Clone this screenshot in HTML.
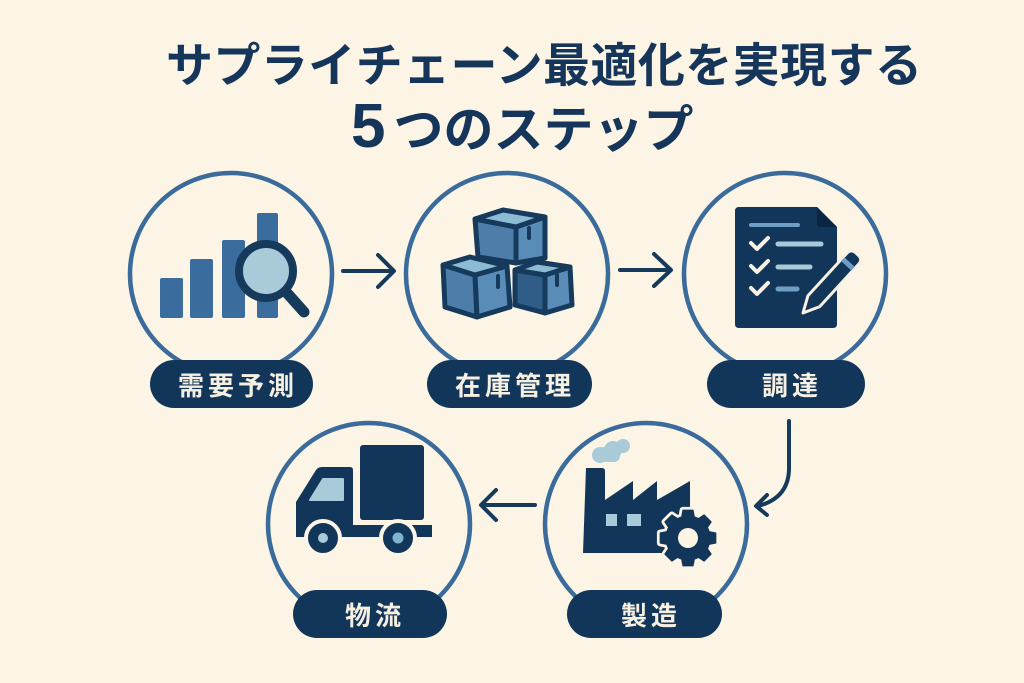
<!DOCTYPE html>
<html>
<head>
<meta charset="utf-8">
<style>
html,body{margin:0;padding:0;background:#fcf5e5;}
svg{display:block;}
</style>
</head>
<body>
<svg width="1024" height="683" viewBox="0 0 1024 683" xmlns="http://www.w3.org/2000/svg">
<rect width="1024" height="683" fill="#fcf5e5"/>

<!-- Title -->
<text x="166" y="82" font-family="'Liberation Sans','Noto Sans CJK JP',sans-serif" font-size="47" font-weight="700" fill="#15365a" textLength="756" lengthAdjust="spacing">サプライチェーン最適化を実現する</text>
<text x="351" y="147" font-family="'Liberation Sans','Noto Sans CJK JP',sans-serif" font-weight="700" fill="#15365a"><tspan font-size="62">5</tspan><tspan font-size="50" dx="8">つのステップ</tspan></text>

<!-- Circles -->
<g fill="#fcf5e5" stroke="#3b6b9b" stroke-width="4.5">
  <circle cx="231" cy="274" r="101"/>
  <circle cx="507" cy="274" r="101"/>
  <circle cx="785" cy="274" r="101"/>
  <circle cx="369" cy="524" r="101"/>
  <circle cx="646" cy="524" r="101"/>
</g>

<!-- Arrows -->
<g fill="none" stroke="#163a5c" stroke-width="4" stroke-linecap="round" stroke-linejoin="round">
  <line x1="343" y1="271" x2="393" y2="271"/>
  <polyline points="378,255 394,271 378,287"/>
  <line x1="620" y1="270" x2="670" y2="270"/>
  <polyline points="654,254 671,270 654,286"/>
  <line x1="535" y1="505" x2="482" y2="505"/>
  <polyline points="496,490 481,505 496,520"/>
  <path d="M789,421 L789,468 Q789,498 758,506"/>
  <polyline points="767,495 756,506 767,515"/>
</g>

<!-- Icon 1: bars + magnifier -->
<g fill="#3a6d9e">
  <rect x="160" y="278" width="23" height="40" rx="2"/>
  <rect x="190" y="259" width="23" height="59" rx="2"/>
  <rect x="222" y="240" width="23" height="78" rx="2"/>
  <rect x="257" y="213" width="21" height="105" rx="2"/>
</g>
<line x1="287" y1="293" x2="304" y2="312" stroke="#163a5c" stroke-width="11" stroke-linecap="round"/>
<circle cx="266" cy="271" r="27" fill="#a9cbd9" stroke="#163a5c" stroke-width="8"/>

<!-- Icon 2: boxes -->
<g stroke="#163a5c" stroke-width="5" stroke-linejoin="round">
  <!-- top cube -->
  <polygon points="475,219 516,227 516,263 478,257" fill="#4d7eaa"/>
  <polygon points="516,227 545,217 545,258 516,263" fill="#5a8cb8"/>
  <polygon points="475,219 503,210 545,217 516,227" fill="#8dbbd3"/>
  <!-- right cube -->
  <polygon points="515,270 545,275 545,313 515,305" fill="#2f5d88"/>
  <polygon points="545,275 570,267 572,305 545,313" fill="#5a8cb8"/>
  <polygon points="515,270 537,262 570,267 545,275" fill="#8dbbd3"/>
  <!-- left cube -->
  <polygon points="443,265 475,275 477,317 445,307" fill="#4d7eaa"/>
  <polygon points="475,275 507,266 510,307 477,317" fill="#5a8cb8"/>
  <polygon points="443,265 470,257 507,266 475,275" fill="#8dbbd3"/>
</g>
<g stroke="#163a5c" stroke-width="4" stroke-linecap="round">
  <line x1="529" y1="228" x2="529" y2="238"/>
  <line x1="498" y1="276" x2="498" y2="287"/>
  <line x1="557" y1="275" x2="557" y2="285"/>
</g>

<!-- Icon 3: document + pencil -->
<path d="M739,207 H817 L837,227 V324 Q837,328 833,328 H739 Q735,328 735,324 V211 Q735,207 739,207 Z" fill="#12355a"/>
<polygon points="817,207 837,227 819,227 817,225" fill="#0a2643"/>
<g stroke-linecap="round" fill="none">
  <line x1="751" y1="225" x2="798" y2="225" stroke="#6f9ec4" stroke-width="4"/>
  <line x1="778" y1="244" x2="821" y2="244" stroke="#a9cbd9" stroke-width="5"/>
  <line x1="778" y1="267" x2="810" y2="267" stroke="#a9cbd9" stroke-width="5"/>
  <line x1="778" y1="289" x2="797" y2="289" stroke="#6f9ec4" stroke-width="5"/>
  <g stroke="#f8f1e3" stroke-width="4" stroke-linejoin="round">
    <polyline points="751,243 757,249 768,238"/>
    <polyline points="751,266 757,272 768,261"/>
    <polyline points="751,288 757,294 768,283"/>
  </g>
</g>
<g transform="translate(803,313) rotate(-47.5)">
  <path d="M0,0 L16,-8 H74 Q80,-8 80,-2 V2 Q80,8 74,8 H16 Z" fill="#12355a" stroke="#f8f1e3" stroke-width="3" stroke-linejoin="round"/>
  <rect x="64" y="-7" width="5" height="14" fill="#6f9ec4"/>
</g>

<!-- Icon 4: truck -->
<rect x="360" y="445" width="64" height="75" rx="3" fill="#12355a"/>
<path d="M296,502 L316,470 Q318,467 322,467 H350 Q353,467 353,470 V537 H296 Z" fill="#12355a"/>
<polygon points="310,500 323,479 343,479 343,500" fill="#a9cbd9" stroke="#a9cbd9" stroke-width="2" stroke-linejoin="round"/>
<rect x="296" y="525" width="136" height="12" fill="#12355a"/>
<circle cx="323" cy="538" r="17" fill="#12355a" stroke="#fcf5e5" stroke-width="4"/>
<circle cx="323" cy="538" r="5" fill="#a9cbd9"/>
<circle cx="398" cy="538" r="17" fill="#12355a" stroke="#fcf5e5" stroke-width="4"/>
<circle cx="398" cy="538" r="5.5" fill="#7fb3d0"/>

<!-- Icon 5: factory + gear -->
<g fill="#a9cbd9">
  <circle cx="600" cy="455" r="8"/>
  <circle cx="613" cy="450" r="9"/>
  <circle cx="623" cy="446" r="7"/>
  <rect x="598" y="447" width="22" height="15" rx="6"/>
</g>
<path d="M586,468 H602 Q605,468 605,471 V500 L633,481 V500 L657,481 V500 L690,481 V553 H583 Z" fill="#12355a"/>
<rect x="606" y="514" width="11" height="12" fill="#a9cbd9"/>
<rect x="627" y="514" width="14" height="12" fill="#a9cbd9"/>
<polygon points="709.1,531.9 715.6,533.1 715.6,542.9 709.1,544.1 707.2,548.7 710.9,554.1 704.1,560.9 698.7,557.2 694.1,559.1 692.9,565.6 683.1,565.6 681.9,559.1 677.3,557.2 671.9,560.9 665.1,554.1 668.8,548.7 666.9,544.1 660.4,542.9 660.4,533.1 666.9,531.9 668.8,527.3 665.1,521.9 671.9,515.1 677.3,518.8 681.9,516.9 683.1,510.4 692.9,510.4 694.1,516.9 698.7,518.8 704.1,515.1 710.9,521.9 707.2,527.3" fill="#fcf5e5" stroke="#fcf5e5" stroke-width="7" stroke-linejoin="round"/>
<polygon points="709.1,531.9 715.6,533.1 715.6,542.9 709.1,544.1 707.2,548.7 710.9,554.1 704.1,560.9 698.7,557.2 694.1,559.1 692.9,565.6 683.1,565.6 681.9,559.1 677.3,557.2 671.9,560.9 665.1,554.1 668.8,548.7 666.9,544.1 660.4,542.9 660.4,533.1 666.9,531.9 668.8,527.3 665.1,521.9 671.9,515.1 677.3,518.8 681.9,516.9 683.1,510.4 692.9,510.4 694.1,516.9 698.7,518.8 704.1,515.1 710.9,521.9 707.2,527.3" fill="#12355a" stroke="#12355a" stroke-width="1.5" stroke-linejoin="round"/>
<circle cx="688" cy="538" r="10" fill="#fcf5e5"/>

<!-- Pills -->
<g fill="#12355a">
  <rect x="150" y="360" width="163" height="48" rx="24"/>
  <rect x="427" y="360" width="165" height="48" rx="24"/>
  <rect x="707" y="360" width="158" height="48" rx="24"/>
  <rect x="293" y="590" width="154" height="48" rx="24"/>
  <rect x="567" y="590" width="155" height="48" rx="24"/>
</g>
<g font-family="'Liberation Sans','Noto Sans CJK JP',sans-serif" font-size="26" font-weight="700" fill="#f6f0e2" text-anchor="middle" letter-spacing="4">
  <text x="238" y="395">需要予測</text>
  <text x="515" y="395">在庫管理</text>
  <text x="792" y="395">調達</text>
  <text x="375" y="625">物流</text>
  <text x="651" y="625">製造</text>
</g>
</svg>
</body>
</html>
